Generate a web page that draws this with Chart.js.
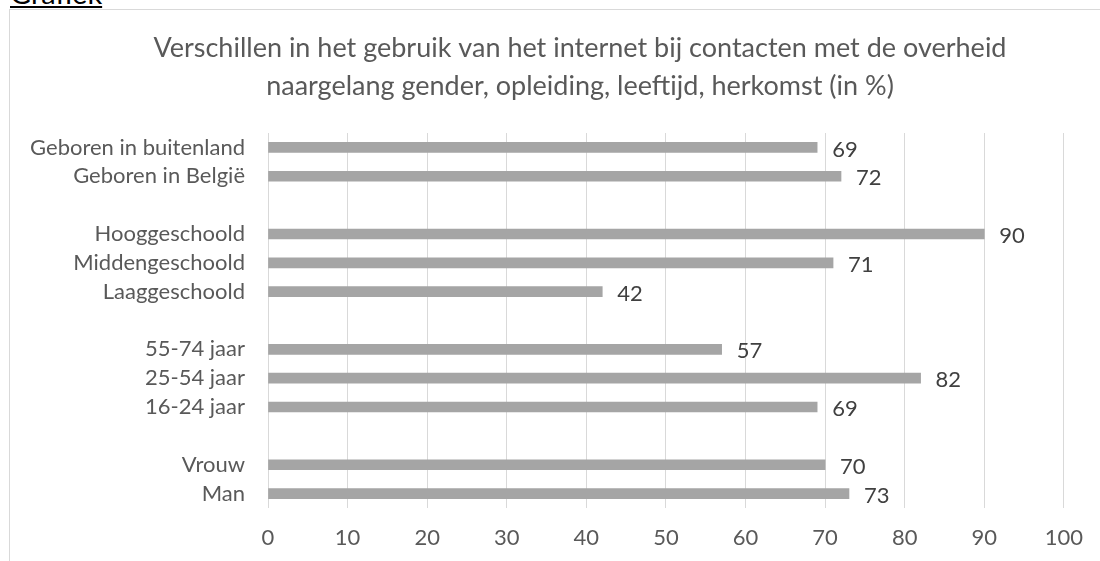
<!DOCTYPE html>
<html>
<head>
<meta charset="utf-8">
<script src="https://cdn.jsdelivr.net/npm/chart.js"></script>
<style>
  html, body { margin: 0; padding: 0; background: #fff; overflow: hidden; }
  body { width: 1100px; height: 561px; position: relative; font-family: Lato, sans-serif; }
  .kop { position: absolute; left: 10px; top: -22px; font-size: 29px; line-height: 29px; color: #000; text-decoration: underline; }
  .kader { position: absolute; left: 9px; top: 9px; width: 1200px; height: 700px; border-left: 1px solid #d9d9d9; border-top: 1px solid #d9d9d9; }
  #wrap { position: absolute; left: 0; top: 0; width: 1100px; height: 561px; }
</style>
</head>
<body>
<div class="kop">Grafiek</div>
<div class="kader"></div>
<div id="wrap"><canvas id="myChart"></canvas></div>
<script>
const categories = ['Geboren in buitenland', 'Geboren in België', '', 'Hooggeschoold', 'Middengeschoold', 'Laaggeschoold', '', '55-74 jaar', '25-54 jaar', '16-24 jaar', '', 'Vrouw', 'Man'];
const values = [69, 72, null, 90, 71, 42, null, 57, 82, 69, null, 70, 73];
const xTicks = [0, 10, 20, 30, 40, 50, 60, 70, 80, 90, 100];
const titleLines = ['Verschillen in het gebruik van het internet bij contacten met de overheid', 'naargelang gender, opleiding, leeftijd, herkomst (in %)'];

document.addEventListener('DOMContentLoaded', function() {
    // labels next to the bars
    const barLabels = {
        id: 'barLabels',
        afterDatasetsDraw(chart) {
            const ctx = chart.ctx;
            const meta = chart.getDatasetMeta(0);
            ctx.save();
            ctx.font = '22px Lato';
            ctx.fillStyle = '#404040';
            ctx.textAlign = 'left';
            ctx.textBaseline = 'middle';
            meta.data.forEach(function(bar, i) {
                if (values[i] === null) return;
                ctx.fillText(values[i], bar.x + 15, bar.y + 2);
            });
            ctx.restore();
        }
    };

    // title is centred on the whole frame, not on the plot
    const frameTitle = {
        id: 'frameTitle',
        afterDraw(chart) {
            const ctx = chart.ctx;
            ctx.save();
            ctx.font = '27px Lato';
            ctx.fillStyle = '#595959';
            ctx.textAlign = 'center';
            ctx.textBaseline = 'middle';
            titleLines.forEach(function(line, i) {
                ctx.fillText(line, 580, 48 + i * 38);
            });
            ctx.restore();
        }
    };

    const config = {
        type: 'bar',
        data: {
            labels: categories,
            datasets: [{
                data: values,
                backgroundColor: '#a5a5a5',
                barThickness: 10
            }]
        },
        options: {
            indexAxis: 'y',
            responsive: true,
            maintainAspectRatio: false,
            animation: false,
            layout: { padding: { left: 0, right: 32, top: 133, bottom: 0 } },
            plugins: {
                legend: { display: false },
                tooltip: { enabled: false },
                title: { display: false }
            },
            scales: {
                x: {
                    min: 0,
                    max: 100,
                    afterBuildTicks: function(scale) {
                        scale.ticks = xTicks.map(v => ({ value: v }));
                    },
                    afterFit: function(scale) { scale.height = 53; },
                    grid: { color: '#d9d9d9', drawTicks: false },
                    border: { display: false },
                    ticks: { color: '#595959', font: { family: 'Lato', size: 22 }, padding: 17 }
                },
                y: {
                    afterFit: function(scale) { scale.width = 268; },
                    grid: { display: false },
                    border: { display: false },
                    ticks: { color: '#595959', font: { family: 'Lato', size: 22 }, padding: 15, autoSkip: false }
                }
            }
        },
        plugins: [barLabels, frameTitle]
    };

    const ctx = document.getElementById('myChart').getContext('2d');
    new Chart(ctx, config);
});
</script>
</body>
</html>
